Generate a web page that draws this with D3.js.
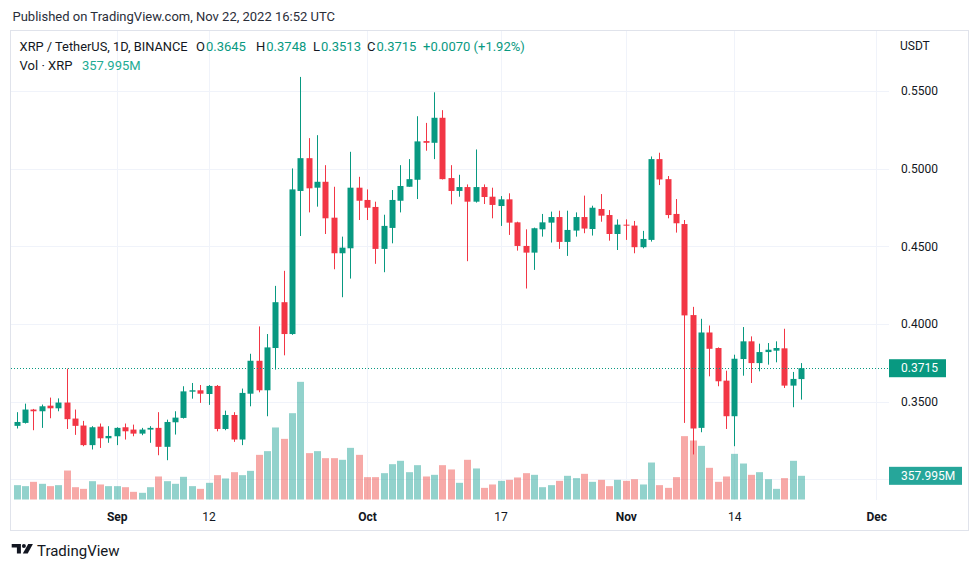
<!DOCTYPE html>
<html>
<head>
<meta charset="utf-8">
<script src="https://cdn.jsdelivr.net/npm/d3@7/dist/d3.min.js"></script>
<style>
html,body{margin:0;padding:0;background:#fff;}
svg{display:block;font-family:Roboto,"Noto Sans",sans-serif;}
</style>
</head>
<body>
<svg id="chart" width="980" height="569"></svg>
<script>
// ---------- data (XRP / TetherUS, 1D, BINANCE) ----------
const dates = [
"2022-08-20","2022-08-21","2022-08-22","2022-08-23","2022-08-24","2022-08-25","2022-08-26","2022-08-27","2022-08-28","2022-08-29",
"2022-08-30","2022-08-31","2022-09-01","2022-09-02","2022-09-03","2022-09-04","2022-09-05","2022-09-06","2022-09-07","2022-09-08",
"2022-09-09","2022-09-10","2022-09-11","2022-09-12","2022-09-13","2022-09-14","2022-09-15","2022-09-16","2022-09-17","2022-09-18",
"2022-09-19","2022-09-20","2022-09-21","2022-09-22","2022-09-23","2022-09-24","2022-09-25","2022-09-26","2022-09-27","2022-09-28",
"2022-09-29","2022-09-30","2022-10-01","2022-10-02","2022-10-03","2022-10-04","2022-10-05","2022-10-06","2022-10-07","2022-10-08",
"2022-10-09","2022-10-10","2022-10-11","2022-10-12","2022-10-13","2022-10-14","2022-10-15","2022-10-16","2022-10-17","2022-10-18",
"2022-10-19","2022-10-20","2022-10-21","2022-10-22","2022-10-23","2022-10-24","2022-10-25","2022-10-26","2022-10-27","2022-10-28",
"2022-10-29","2022-10-30","2022-10-31","2022-11-01","2022-11-02","2022-11-03","2022-11-04","2022-11-05","2022-11-06","2022-11-07",
"2022-11-08","2022-11-09","2022-11-10","2022-11-11","2022-11-12","2022-11-13","2022-11-14","2022-11-15","2022-11-16","2022-11-17",
"2022-11-18","2022-11-19","2022-11-20","2022-11-21","2022-11-22"];

const open = [
0.3344,0.3363,0.3449,0.3438,0.3474,0.3457,0.3494,0.3391,0.3346,0.3220,
0.3339,0.3264,0.3277,0.3335,0.3320,0.3294,0.3320,0.3331,0.3209,0.3367,
0.3395,0.3564,0.3573,0.3549,0.3601,0.3324,0.3414,0.3256,0.3551,0.3763,
0.3573,0.3845,0.4140,0.3935,0.4856,0.5067,0.4877,0.4915,0.4684,0.4455,
0.4487,0.4877,0.4798,0.4753,0.4483,0.4618,0.4793,0.4883,0.4928,0.5177,
0.5166,0.5327,0.4939,0.4856,0.4881,0.4787,0.4881,0.4819,0.4759,0.4802,
0.4654,0.4502,0.4459,0.4609,0.4652,0.4688,0.4528,0.4601,0.4688,0.4611,
0.4740,0.4701,0.4579,0.4639,0.4633,0.4494,0.4541,0.5061,0.4932,0.4708,
0.4643,0.4057,0.3331,0.3945,0.3845,0.3635,0.3406,0.3774,0.3888,0.3748,
0.3819,0.3828,0.3843,0.3603,0.3645];

const high = [
0.3432,0.3487,0.3453,0.3481,0.3526,0.3521,0.3712,0.3449,0.3376,0.3342,
0.3359,0.3342,0.3335,0.3359,0.3352,0.3331,0.3342,0.3432,0.3384,0.3438,
0.3599,0.3620,0.3607,0.3607,0.3607,0.3442,0.3432,0.3584,0.3808,0.3984,
0.3935,0.4245,0.4342,0.5001,0.5590,0.5196,0.5215,0.5022,0.4883,0.4562,
0.5108,0.4947,0.4866,0.4787,0.4703,0.4862,0.5022,0.5061,0.5337,0.5294,
0.5491,0.5376,0.5022,0.4960,0.4898,0.5123,0.4898,0.4877,0.4823,0.4841,
0.4658,0.4609,0.4620,0.4708,0.4723,0.4729,0.4729,0.4718,0.4826,0.4761,
0.4836,0.4733,0.4673,0.4673,0.4663,0.4599,0.5078,0.5102,0.4952,0.4804,
0.4669,0.4110,0.4033,0.3990,0.3849,0.3699,0.3802,0.3980,0.3920,0.3873,
0.3877,0.3888,0.3969,0.3691,0.3748];

const low = [
0.3327,0.3359,0.3316,0.3331,0.3393,0.3438,0.3324,0.3286,0.3213,0.3192,
0.3202,0.3235,0.3220,0.3256,0.3277,0.3284,0.3235,0.3155,0.3123,0.3288,
0.3391,0.3519,0.3492,0.3479,0.3309,0.3316,0.3241,0.3220,0.3470,0.3560,
0.3406,0.3706,0.3798,0.3930,0.4566,0.4718,0.4755,0.4579,0.4352,0.4172,
0.4292,0.4669,0.4669,0.4387,0.4333,0.4519,0.4718,0.4883,0.4804,0.5115,
0.5061,0.4930,0.4770,0.4819,0.4404,0.4781,0.4772,0.4680,0.4631,0.4573,
0.4472,0.4228,0.4348,0.4562,0.4524,0.4483,0.4438,0.4562,0.4584,0.4569,
0.4658,0.4536,0.4476,0.4541,0.4455,0.4487,0.4530,0.4894,0.4680,0.4588,
0.3363,0.3160,0.3303,0.3663,0.3599,0.3324,0.3213,0.3667,0.3620,0.3695,
0.3738,0.3753,0.3588,0.3464,0.3513];

const close = [
0.3369,0.3449,0.3438,0.3470,0.3457,0.3494,0.3387,0.3344,0.3220,0.3335,
0.3264,0.3279,0.3331,0.3309,0.3294,0.3320,0.3331,0.3209,0.3369,0.3397,
0.3566,0.3573,0.3551,0.3601,0.3324,0.3414,0.3256,0.3556,0.3763,0.3573,
0.3849,0.4140,0.3935,0.4866,0.5067,0.4873,0.4915,0.4680,0.4455,0.4491,
0.4877,0.4793,0.4748,0.4483,0.4631,0.4798,0.4888,0.4932,0.5175,0.5166,
0.5327,0.4932,0.4856,0.4881,0.4787,0.4881,0.4817,0.4766,0.4802,0.4652,
0.4502,0.4459,0.4616,0.4654,0.4688,0.4528,0.4605,0.4688,0.4614,0.4748,
0.4697,0.4579,0.4639,0.4633,0.4494,0.4547,0.5061,0.4930,0.4701,0.4648,
0.4055,0.3327,0.3945,0.3840,0.3631,0.3406,0.3776,0.3888,0.3748,0.3819,
0.3834,0.3845,0.3603,0.3646,0.3715];

// volume in millions of XRP
const volume = [
217,202,267,237,202,217,438,186,161,277,
227,202,202,186,116,101,186,348,277,237,
343,202,161,252,368,318,413,368,433,675,
731,1089,917,1305,1779,701,731,625,625,600,
781,675,338,338,398,534,585,413,519,348,
373,519,454,252,600,469,176,227,282,297,
333,398,373,186,217,282,358,323,388,267,
297,202,297,282,307,227,559,217,176,338,
958,892,811,479,267,348,690,544,373,413,
307,161,323,585,357.995];

const priceTicks = [0.30, 0.35, 0.40, 0.45, 0.50, 0.55];
const priceTickLabels = [0.35, 0.40, 0.45, 0.50, 0.55];
const timeTickDates = ["2022-09-01","2022-09-12","2022-10-01","2022-10-17","2022-11-01","2022-11-14","2022-12-01"];
const timeTickLabels = ["Sep","12","Oct","17","Nov","14","Dec"];
const timeTickBold = [true,false,true,false,true,false,true];

const lastPrice = 0.3715;
const lastVolumeLabel = "357.995M";
const legendOHLC = [["O","0.3645"],["H","0.3748"],["L","0.3513"],["C","0.3715"]];
const legendChange = "+0.0070 (+1.92%)";

// ---------- layout ----------
const UP = "#089981", DOWN = "#f23645";
const VUP = "rgba(38,166,154,0.5)", VDOWN = "rgba(239,83,80,0.5)";
const TXT = "#131722", GRID = "#f0f3fa";
const plotL = 10.5, plotR = 889, plotT = 30.5, plotB = 500;

const svg = d3.select("#chart");
svg.append("rect").attr("width",980).attr("height",569).attr("fill","#fff");

const parse = d3.utcParse("%Y-%m-%d");
const x = d3.scaleUtc()
  .domain([parse("2022-09-01"), parse("2022-12-01")])
  .range([116.7, 876.2]);
const y = d3.scaleLinear().domain([0.30, 0.55]).range([479.3, 90.9]);
const yv = d3.scaleLinear().domain([0, 1800]).range([499.5, 380.45]);

const data = dates.map((d,i)=>({date:parse(d),o:open[i],h:high[i],l:low[i],c:close[i],v:volume[i]}));

// frame
svg.append("rect").attr("x",10.5).attr("y",30.5).attr("width",958).attr("height",500)
  .attr("fill","none").attr("stroke","#e0e3eb");

// grid
const grid = svg.append("g");
grid.selectAll("line.h").data(priceTicks).join("line")
  .attr("x1",plotL+0.5).attr("x2",plotR)
  .attr("y1",d=>Math.round(y(d))+0.5).attr("y2",d=>Math.round(y(d))+0.5)
  .attr("stroke",GRID);
grid.selectAll("line.v").data(timeTickDates).join("line")
  .attr("x1",d=>Math.round(x(parse(d)))+0.5).attr("x2",d=>Math.round(x(parse(d)))+0.5)
  .attr("y1",plotT+0.5).attr("y2",plotB)
  .attr("stroke",GRID);

// volume bars
svg.append("g").selectAll("rect").data(data).join("rect")
  .attr("x",d=>Math.round(x(d.date))-3)
  .attr("width",7)
  .attr("y",d=>yv(d.v))
  .attr("height",d=>yv(0)-yv(d.v))
  .attr("fill",d=>d.c>=d.o?VUP:VDOWN);

// candles
const cg = svg.append("g");
const candle = cg.selectAll("g").data(data).join("g");
candle.append("rect")
  .attr("x",d=>Math.round(x(d.date)))
  .attr("width",1)
  .attr("y",d=>y(d.h))
  .attr("height",d=>Math.max(1,y(d.l)-y(d.h)))
  .attr("fill",d=>d.c>=d.o?UP:DOWN);
candle.append("rect")
  .attr("x",d=>Math.round(x(d.date))-2.5)
  .attr("width",6)
  .attr("y",d=>y(Math.max(d.o,d.c)))
  .attr("height",d=>Math.max(1,Math.abs(y(d.o)-y(d.c))))
  .attr("fill",d=>d.c>=d.o?UP:DOWN);

// last price dotted line
svg.append("line")
  .attr("x1",plotL+0.5).attr("x2",plotR)
  .attr("y1",Math.round(y(lastPrice))+0.5).attr("y2",Math.round(y(lastPrice))+0.5)
  .attr("stroke",UP).attr("stroke-dasharray","1,2");

// price axis
const pa = svg.append("g").attr("transform",`translate(${plotR},0)`)
  .call(d3.axisRight(y).tickValues(priceTickLabels).tickFormat(d3.format(".4f")).tickSize(0).tickPadding(12));
pa.select(".domain").remove();
pa.selectAll("text").attr("fill",TXT).style("font-size","12px").style("font-family","Roboto, sans-serif");

svg.append("text").attr("x",900).attr("y",50).text("USDT")
  .attr("fill",TXT).style("font-size","12px");

// last price label
const ly = y(lastPrice);
svg.append("rect").attr("x",plotR).attr("y",ly-9).attr("width",57).attr("height",18).attr("fill",UP);
svg.append("text").attr("x",plotR+12).attr("y",ly).attr("dy","0.35em").text(d3.format(".4f")(lastPrice))
  .attr("fill","#fff").style("font-size","12px");
// volume label
const vy = yv(volume[volume.length-1]);
svg.append("rect").attr("x",plotR).attr("y",vy-9).attr("width",73).attr("height",18).attr("fill","#26a69a");
svg.append("text").attr("x",plotR+12).attr("y",vy).attr("dy","0.35em").text(lastVolumeLabel)
  .attr("fill","#fff").style("font-size","12px");

// time axis
const ta = svg.append("g").attr("transform",`translate(0,${plotB})`)
  .call(d3.axisBottom(x).tickValues(timeTickDates.map(parse))
    .tickFormat((d,i)=>timeTickLabels[i]).tickSize(0).tickPadding(12.5));
ta.select(".domain").remove();
ta.selectAll("text").attr("fill",TXT).style("font-size","12px").style("font-family","Roboto, sans-serif")
  .style("font-weight",(d,i)=>timeTickBold[i]?"bold":"normal");

// header
svg.append("text").attr("x",12.5).attr("y",20.5)
  .text("Published on TradingView.com, Nov 22, 2022 16:52 UTC")
  .attr("fill","#2a2e39").style("font-size","13px");

const lg = svg.append("g").style("font-size","13px");
lg.append("text").attr("x",19.6).attr("y",51).attr("fill",TXT)
  .attr("textLength",168).attr("lengthAdjust","spacingAndGlyphs")
  .text("XRP / TetherUS, 1D, BINANCE");
const ohlcX = [196, 256, 313, 367];
legendOHLC.forEach((p,i)=>{
  const t = lg.append("text").attr("x",ohlcX[i]).attr("y",51);
  t.append("tspan").attr("fill",TXT).text(p[0]);
  t.append("tspan").attr("fill",UP).attr("dx",1).text(p[1]);
});
lg.append("text").attr("x",423).attr("y",51).attr("fill",UP).text(legendChange);
const vt = lg.append("text").attr("x",19.6).attr("y",70);
vt.append("tspan").attr("fill",TXT).text("Vol · XRP");
vt.append("tspan").attr("fill","#22ab94").attr("x",82).text(lastVolumeLabel);

// footer logo
const logo = svg.append("g").attr("fill",TXT);
logo.append("path").attr("d","M11.7,544 H20.9 V553.5 H16.9 V547.6 H11.7 Z");
logo.append("circle").attr("cx",23.9).attr("cy",546).attr("r",2);
logo.append("path").attr("d","M28.2,544 H32.9 L27.7,553.5 H22.8 Z");
svg.append("text").attr("x",37).attr("y",555.5).text("TradingView")
  .attr("fill",TXT).style("font-size","15px");
</script>
</body>
</html>
